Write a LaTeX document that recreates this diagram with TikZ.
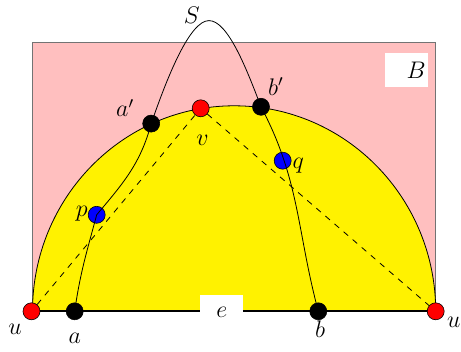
\documentclass[tikz,border=0pt]{standalone}
\usepackage{xcolor}
\usepackage{amsmath}
\usepackage{tikz}
\usetikzlibrary{positioning, calc}
\tikzstyle{vertex} = [circle, draw=black, line width=0.3pt, minimum size=8.5pt, inner sep=0pt]
\tikzstyle{blackdot} = [vertex, fill=black]
\tikzstyle{reddot} = [vertex, fill=red]
\tikzstyle{bluedot} = [vertex, fill=blue]
\tikzstyle{lbl} = [inner sep=0pt, font=\large]
\tikzstyle{whitebox} = [fill=white, minimum width=21.6pt, minimum height=17.2pt,
    inner sep=0pt, font=\large]

\begin{document}
\begin{tikzpicture}[x=0.5pt, y=-0.5pt]
        \useasboundingbox (0,0) rectangle (461,352);
        \coordinate (uL0) at (32.5,311.3);
        \coordinate (uR0) at (435.7,311.3);
        \coordinate (Stop) at (209,20.6);

        % region B and the half-disc
        \filldraw[fill=pink, draw=black!55, line width=0.5pt]
            (32.5,42.7) rectangle (435.7,311.3);
        \fill[yellow] (uL0) arc[start angle=180, end angle=360,
            x radius=201.6, y radius=205.5] -- cycle;
        \draw[line width=0.4pt] (uL0) arc[start angle=180, end angle=360,
            x radius=201.6, y radius=205.5];
        \draw[line width=1pt] (uL0) -- (uR0);

        \node[reddot] (uL) at (31.5,311.3) {};
        \node[reddot] (uR) at (435.7,311.3) {};
        \node[blackdot] (a) at (74.7,311.3) {};
        \node[blackdot] (b) at (318.3,311.3) {};
        \node[reddot] (v) at (200.7,108.3) {};
        \node[blackdot] (ap) at (151.2,123.6) {};
        \node[blackdot] (bp) at (261,106.8) {};
        \node[bluedot] (p) at (96.7,214.8) {};
        \node[bluedot] (q) at (282.7,160.7) {};

        \draw[dashed] (uL) -- (v) -- (uR);
        \draw (ap.center) to[out=-105, in=50] (p.center)
            to[out=-105, in=82] (a.center);
        \draw (bp.center) to[out=-62, in=105] (b.center);
        \draw (ap.center) .. controls (168,75) and (190,20.6) .. (Stop)
            .. controls (228,20.6) and (247,70) .. (bp.center);

        % Labels
        \node[whitebox] (e) at (221.7,312) {$e$};
        \node[whitebox, text width=19pt, align=right, inner xsep=1.3pt]
            (B) at (406.7,70) {$B$};
        \node[lbl] (uLlbl) at ([shift={(-16.5,18)}]uL) {$u$};
        \node[lbl] (uRlbl) at ([shift={(18,11.5)}]uR) {$u$};
        \node[lbl] (albl) at ([shift={(0,27)}]a) {$a$};
        \node[lbl] (blbl) at ([shift={(1.7,18)}]b) {$b$};
        \node[lbl] (vlbl) at ([shift={(1.8,32.5)}]v) {$v$};
        \node[lbl] (aplbl) at ([shift={(-26,-15.5)}]ap) {$a'$};
        \node[lbl] (bplbl) at ([shift={(15,-20)}]bp) {$b'$};
        \node[lbl] (plbl) at ([shift={(-15,-1.5)}]p) {$p$};
        \node[lbl] (qlbl) at ([shift={(15.6,5)}]q) {$q$};
        \node[lbl] (Slbl) at ([shift={(-17.3,-5.6)}]Stop) {$S$};
    \end{tikzpicture}
\end{document}
